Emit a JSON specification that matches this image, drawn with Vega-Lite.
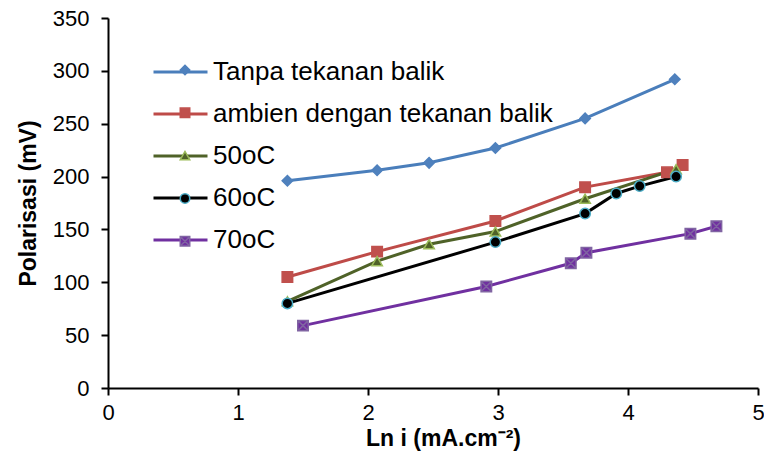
{
  "$schema": "https://vega.github.io/schema/vega-lite/v6.json",
  "autosize": "none",
  "width": 650,
  "height": 370,
  "padding": {"left": 108, "top": 18, "right": 6, "bottom": 71},
  "background": "white",
  "config": {
    "view": {"stroke": null},
    "font": "Liberation Sans",
    "axis": {
      "domainColor": "black", "domainWidth": 2, "tickColor": "black", "tickWidth": 2, "tickSize": 7,
      "labelColor": "black", "labelFontSize": 22, "labelFont": "Liberation Sans", "labelFlush": false,
      "titleColor": "black", "titleFontSize": 23, "titleFont": "Liberation Sans", "titleFontWeight": "bold",
      "grid": false
    }
  },
  "data": {
    "values": [
      {"series": "Tanpa tekanan balik", "x": 1.38, "y": 196},
      {"series": "Tanpa tekanan balik", "x": 2.07, "y": 206},
      {"series": "Tanpa tekanan balik", "x": 2.47, "y": 213},
      {"series": "Tanpa tekanan balik", "x": 2.98, "y": 227},
      {"series": "Tanpa tekanan balik", "x": 3.67, "y": 255},
      {"series": "Tanpa tekanan balik", "x": 4.36, "y": 292},
      {"series": "ambien dengan tekanan balik", "x": 1.38, "y": 105},
      {"series": "ambien dengan tekanan balik", "x": 2.07, "y": 129},
      {"series": "ambien dengan tekanan balik", "x": 2.98, "y": 158},
      {"series": "ambien dengan tekanan balik", "x": 3.67, "y": 190},
      {"series": "ambien dengan tekanan balik", "x": 4.30, "y": 204},
      {"series": "ambien dengan tekanan balik", "x": 4.42, "y": 211},
      {"series": "50oC", "x": 1.38, "y": 82},
      {"series": "50oC", "x": 2.07, "y": 120},
      {"series": "50oC", "x": 2.47, "y": 136},
      {"series": "50oC", "x": 2.98, "y": 148},
      {"series": "50oC", "x": 3.67, "y": 179},
      {"series": "50oC", "x": 4.37, "y": 207},
      {"series": "60oC", "x": 1.38, "y": 80},
      {"series": "60oC", "x": 2.98, "y": 138},
      {"series": "60oC", "x": 3.67, "y": 165},
      {"series": "60oC", "x": 3.91, "y": 184},
      {"series": "60oC", "x": 4.09, "y": 191},
      {"series": "60oC", "x": 4.37, "y": 200},
      {"series": "70oC", "x": 1.50, "y": 59},
      {"series": "70oC", "x": 2.91, "y": 96},
      {"series": "70oC", "x": 3.56, "y": 118},
      {"series": "70oC", "x": 3.68, "y": 128},
      {"series": "70oC", "x": 4.48, "y": 146},
      {"series": "70oC", "x": 4.68, "y": 153}
    ]
  },
  "encoding": {
    "x": {"field": "x", "type": "quantitative", "scale": {"domain": [0, 5], "nice": false},
      "axis": {"values": [0, 1, 2, 3, 4, 5], "title": "Ln i (mA.cm⁻²)", "labelPadding": 7, "titlePadding": 4, "titleX": 335}},
    "y": {"field": "y", "type": "quantitative", "scale": {"domain": [0, 350], "nice": false},
      "axis": {"values": [0, 50, 100, 150, 200, 250, 300, 350], "title": "Polarisasi (mV)", "labelPadding": 12, "titlePadding": 12}}
  },
  "layer": [
    {
      "mark": {"type": "line", "strokeWidth": 3},
      "encoding": {
        "color": {"field": "series", "type": "nominal",
          "sort": ["Tanpa tekanan balik", "ambien dengan tekanan balik", "50oC", "60oC", "70oC"],
          "scale": {"range": ["#4A7EBB", "#BE4B48", "#4F6228", "#000000", "#7030A0"]},
          "legend": {"orient": "none", "legendX": 44, "legendY": 25.5, "title": null, "padding": 0,
            "symbolType": "stroke", "symbolSize": 2916, "symbolStrokeWidth": 3,
            "labelFontSize": 26, "labelFont": "Liberation Sans", "labelColor": "black", "labelOffset": 4,
            "rowPadding": -0.2, "labelLimit": 500}}
      }
    },
    {
      "mark": {"type": "point", "filled": true, "size": 110, "strokeWidth": 1.5, "opacity": 1},
      "encoding": {
        "shape": {"field": "series", "type": "nominal",
          "scale": {"domain": ["Tanpa tekanan balik", "ambien dengan tekanan balik", "50oC", "60oC", "70oC"],
                    "range": ["diamond", "square", "triangle-up", "circle", "M-1,-1H1V1H-1Z M-1,-1L1,1 M1,-1L-1,1"]},
          "legend": {"orient": "none", "legendX": 64, "legendY": 39, "title": null, "padding": 0,
            "symbolSize": 90, "symbolStrokeWidth": 1.5,
            "labelFontSize": 26, "labelFont": "Liberation Sans", "labelColor": "rgba(0,0,0,0)", "labelOffset": 8,
            "rowPadding": 16.8, "labelLimit": 500}},
        "fill": {"field": "series", "type": "nominal",
          "scale": {"domain": ["Tanpa tekanan balik", "ambien dengan tekanan balik", "50oC", "60oC", "70oC"],
                    "range": ["#4F81BD", "#C0504D", "#4F6228", "#000000", "#7030A0"]},
          "legend": {"orient": "none", "legendX": 64, "legendY": 39, "title": null, "padding": 0,
            "symbolSize": 90, "symbolStrokeWidth": 1.5,
            "labelFontSize": 26, "labelFont": "Liberation Sans", "labelColor": "rgba(0,0,0,0)", "labelOffset": 8,
            "rowPadding": 16.8, "labelLimit": 500}},
        "stroke": {"field": "series", "type": "nominal",
          "scale": {"domain": ["Tanpa tekanan balik", "ambien dengan tekanan balik", "50oC", "60oC", "70oC"],
                    "range": ["#4F81BD", "#C0504D", "#9BBB59", "#4BACC6", "#8064A2"]},
          "legend": {"orient": "none", "legendX": 64, "legendY": 39, "title": null, "padding": 0,
            "symbolSize": 90, "symbolStrokeWidth": 1.5,
            "labelFontSize": 26, "labelFont": "Liberation Sans", "labelColor": "rgba(0,0,0,0)", "labelOffset": 8,
            "rowPadding": 16.8, "labelLimit": 500}}
      }
    }
  ]
}
